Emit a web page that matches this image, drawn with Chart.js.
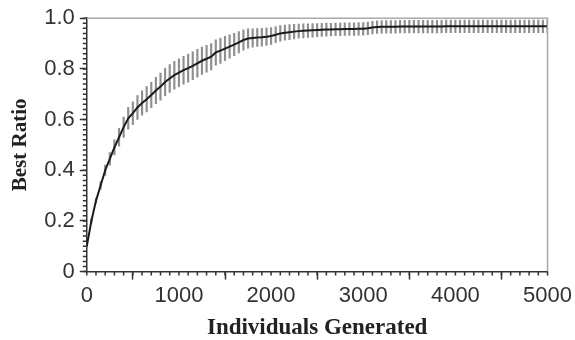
<!DOCTYPE html>
<html>
<head>
<meta charset="utf-8">
<script src="https://cdn.jsdelivr.net/npm/chart.js@4"></script>
<style>
  html, body { margin: 0; padding: 0; background: #fff; }
  #wrap { width: 575px; height: 340px; }
</style>
</head>
<body>
<div id="wrap"><canvas id="ratioChart"></canvas></div>
<script>
// individuals generated, every 50
var individuals = [];
for (var i = 0; i <= 5000; i += 50) individuals.push(i);

// mean best ratio
var bestRatio = [
  0.10, 0.20, 0.28, 0.34, 0.40, 0.445, 0.49, 0.53, 0.57, 0.605,
  0.625, 0.648, 0.665, 0.68, 0.697, 0.715, 0.73, 0.748, 0.762, 0.775,
  0.785, 0.795, 0.803, 0.812, 0.822, 0.832, 0.84, 0.848, 0.865, 0.872,
  0.88, 0.888, 0.896, 0.905, 0.914, 0.92, 0.922, 0.924, 0.925, 0.927,
  0.93, 0.935, 0.94, 0.943, 0.945, 0.947, 0.949, 0.95, 0.951, 0.952,
  0.953, 0.954, 0.955, 0.955, 0.956, 0.956, 0.957, 0.957, 0.957, 0.958,
  0.958, 0.96, 0.963, 0.965, 0.966, 0.966, 0.966, 0.966, 0.967, 0.967,
  0.967, 0.967, 0.967, 0.967, 0.967, 0.967, 0.967, 0.967, 0.968, 0.968,
  0.968, 0.968, 0.968, 0.968, 0.968, 0.968, 0.968, 0.968, 0.968, 0.968,
  0.968, 0.968, 0.968, 0.968, 0.968, 0.968, 0.968, 0.968, 0.968, 0.968,
  0.968
];

// half-length of the error bars
var spread = [
  0.005, 0.008, 0.01, 0.015, 0.02, 0.025, 0.03, 0.035, 0.04, 0.043,
  0.045, 0.047, 0.048, 0.05, 0.05, 0.052, 0.053, 0.054, 0.055, 0.055,
  0.055, 0.055, 0.055, 0.055, 0.055, 0.054, 0.053, 0.052, 0.05, 0.05,
  0.048, 0.046, 0.044, 0.042, 0.04, 0.038, 0.036, 0.035, 0.035, 0.034,
  0.033, 0.032, 0.031, 0.03, 0.03, 0.029, 0.028, 0.028, 0.027, 0.027,
  0.026, 0.026, 0.026, 0.025, 0.025, 0.025, 0.025, 0.025, 0.025, 0.025,
  0.025, 0.025, 0.025, 0.025, 0.025, 0.025, 0.025, 0.025, 0.025, 0.025,
  0.025, 0.025, 0.025, 0.025, 0.025, 0.025, 0.025, 0.025, 0.025, 0.025,
  0.025, 0.025, 0.025, 0.025, 0.025, 0.025, 0.025, 0.025, 0.025, 0.025,
  0.025, 0.025, 0.025, 0.025, 0.025, 0.025, 0.025, 0.025, 0.025, 0.025,
  0.025
];

var linePoints = individuals.map(function (x, i) { return { x: x, y: bestRatio[i] }; });
var barPoints = individuals.map(function (x, i) {
  return { x: x, y: [bestRatio[i] - spread[i], Math.min(1, bestRatio[i] + spread[i])] };
});

// small ticks along both axes plus the grey frame on top/right
var frameTicks = {
  id: "frameTicks",
  afterDraw: function (chart) {
    var ctx = chart.ctx, a = chart.chartArea;
    var xs = chart.scales.x, ys = chart.scales.y;
    ctx.save();
    ctx.strokeStyle = "#aaa";
    ctx.lineWidth = 1.5;
    ctx.beginPath();
    ctx.moveTo(a.left, a.top);
    ctx.lineTo(a.right, a.top);
    ctx.lineTo(a.right, a.bottom);
    ctx.stroke();
    ctx.strokeStyle = "#333";
    ctx.lineWidth = 1.5;
    ctx.beginPath();
    for (var v = 0; v <= 5000; v += 100) {
      var px = xs.getPixelForValue(v);
      ctx.moveTo(px, a.bottom);
      ctx.lineTo(px, a.bottom + 4);
    }
    for (var k = 0; k <= 50; k++) {
      var py = ys.getPixelForValue(k * 0.02);
      ctx.moveTo(a.left, py);
      ctx.lineTo(a.left - 4, py);
    }
    ctx.stroke();
    ctx.restore();
  }
};

var ctx = document.getElementById("ratioChart").getContext("2d");
var chart = new Chart(ctx, {
  type: "line",
  data: {
    datasets: [
      {
        type: "line",
        data: linePoints,
        borderColor: "#1a1a1a",
        borderWidth: 2,
        pointRadius: 0,
        tension: 0,
        order: 1
      },
      {
        type: "bar",
        data: barPoints,
        backgroundColor: "#8f8f8f",
        barThickness: 1.5,
        grouped: false,
        order: 2
      }
    ]
  },
  options: {
    responsive: true,
    maintainAspectRatio: false,
    animation: false,
    layout: { padding: { top: 11, right: 27, left: 8, bottom: 0 } },
    plugins: {
      legend: { display: false },
      tooltip: { enabled: false }
    },
    scales: {
      x: {
        type: "linear",
        min: 0,
        max: 5000,
        offset: false,
        grid: { drawOnChartArea: false, tickLength: 8, tickWidth: 1.5, tickColor: "#333" },
        border: { color: "#333", width: 1.5 },
        ticks: {
          stepSize: 1000,
          maxRotation: 0,
          color: "#333",
          padding: 3,
          font: { family: "Liberation Sans, Arial, sans-serif", size: 22 },
          callback: function (v) { return String(v); }
        },
        title: {
          display: true,
          text: "Individuals Generated",
          color: "#222",
          padding: { top: 5, bottom: 0 },
          font: { family: "Liberation Serif, Times New Roman, serif", size: 23, weight: "bold", lineHeight: 1.0 }
        }
      },
      y: {
        min: 0,
        max: 1,
        grid: { drawOnChartArea: false, tickLength: 7, tickWidth: 1.5, tickColor: "#333" },
        border: { color: "#333", width: 1.5, dash: [1.5, 1.5] },
        ticks: {
          stepSize: 0.2,
          color: "#333",
          padding: 5,
          font: { family: "Liberation Sans, Arial, sans-serif", size: 22 },
          callback: function (v) { return v === 0 ? "0" : v.toFixed(1); }
        },
        title: {
          display: true,
          text: "Best Ratio",
          color: "#222",
          padding: { top: 0, bottom: 6 },
          font: { family: "Liberation Serif, Times New Roman, serif", size: 21, weight: "bold" }
        }
      }
    }
  },
  plugins: [frameTicks]
});
</script>
</body>
</html>
